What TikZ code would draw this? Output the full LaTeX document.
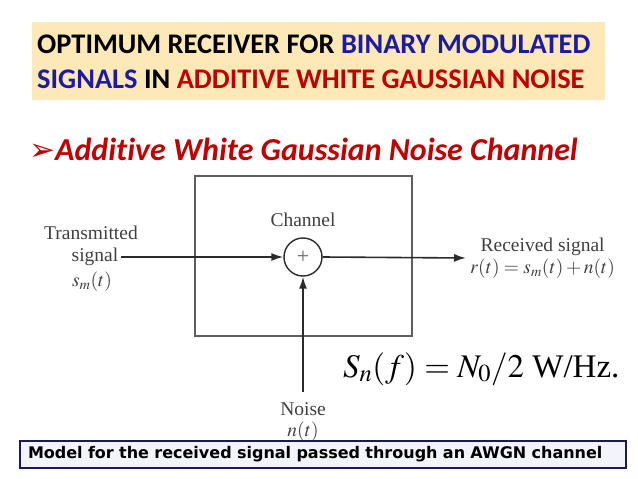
\documentclass[tikz,border=0pt]{standalone}
\usepackage{mathptmx}
\usepackage{fontspec}
\setmainfont{Carlito}[Ligatures=NoCommon]
\newfontfamily\diagfont{Liberation Serif}
\newfontfamily\notefont{DejaVu Sans}
\newfontfamily\dingfont{DejaVu Sans}
\usetikzlibrary{arrows.meta,positioning}
\definecolor{titleblue}{HTML}{1C1CA0}
\definecolor{titlered}{HTML}{C00000}
\definecolor{titlefill}{HTML}{FDE8B8}
\definecolor{diagtext}{HTML}{404040}
\definecolor{diagline}{HTML}{2A2A2A}
\definecolor{boxline}{HTML}{5E5E5E}
\definecolor{notefill}{HTML}{F3F3FA}
\definecolor{noteline}{HTML}{1A1A5A}
\tikzset{
  title line/.style={
    anchor=base west,
    inner sep=0pt,
    font=\bfseries\fontsize{28.4}{32}\selectfont,
  },
  diag label/.style={
    inner sep=0pt,
    align=center,
    text=diagtext,
    font=\diagfont\fontsize{19.5}{22}\selectfont,
  },
  signal/.style={
    -{Latex[length=12pt,width=8pt]},
    line width=1.6pt,
    draw=diagline,
  },
  adder/.style={
    circle,
    draw=diagline,
    line width=1.4pt,
    minimum size=38pt,
    inner sep=0pt,
    text=diagtext!80,
    font=\diagfont\fontsize{22}{22}\selectfont,
  },
}

\begin{document}
\begin{tikzpicture}[x=1pt, y=-1pt]
  \useasboundingbox (0,0) rectangle (638,479);

  \node[fill=titlefill, minimum width=573pt, minimum height=78pt, inner sep=0pt] (titlebox) at (318.5,61) {};
  \node[title line] (titleone) at (37,53)
    {OPTIMUM RECEIVER FOR \textcolor{titleblue}{BINARY MODULATED}};
  \node[title line] (titletwo) at (37,88)
    {\textcolor{titleblue}{SIGNALS} IN \textcolor{titlered}{ADDITIVE WHITE GAUSSIAN NOISE}};

  \node[anchor=base west, inner sep=0pt, text=titlered,
    font=\bfseries\itshape\fontsize{32}{36}\selectfont] (bullet) at (29,160)
    {{\dingfont\fontsize{31}{31}\selectfont ➢}Additive White Gaussian Noise Channel};

  \node[draw=boxline, line width=1.2pt, minimum width=217pt, minimum height=160pt, inner sep=0pt] (channel) at (303.5,256) {};
  \node[adder] (sum) at (303,257) {+};
  \node[diag label] (chlabel) at (303,220) {Channel};

  \node[diag label, inner xsep=3pt] (txsig) at (95,257) {signal};
  \node[diag label, above=8pt of txsig, xshift=-4pt] (txname) {Transmitted};
  \node[diag label, below=6pt of txsig, xshift=-3pt] (txmath) {$s_m(t)$};

  \node[diag label, anchor=west, inner xsep=4pt] (rx) at (466,258)
    {Received signal\\$r(t) = s_m(t) + n(t)$};

  \node[diag label] (noise) at (303,409) {Noise};
  \node[diag label, below=6pt of noise] (noisesig) {$n(t)$};

  \node[anchor=base west, inner sep=0pt, text=black,
    font=\diagfont\fontsize{33}{36}\selectfont] (psd) at (343,377)
    {$S_n(f) = N_0/2$ W/Hz.};

  \node[draw=noteline, fill=notefill, line width=1.2pt, minimum height=27pt,
    text width=590pt, inner xsep=8pt, inner ysep=0pt, align=left,
    font=\notefont\bfseries\fontsize{16}{18}\selectfont] (caption) at (323,454.5)
    {Model for the received signal passed through an AWGN channel};

  \draw[signal] (txsig.east) -- (sum.west);
  \draw[signal] (sum.east) -- (rx.west);
  \draw[signal] ([yshift=10pt]noise.north) -- (sum.south);
\end{tikzpicture}
\end{document}
